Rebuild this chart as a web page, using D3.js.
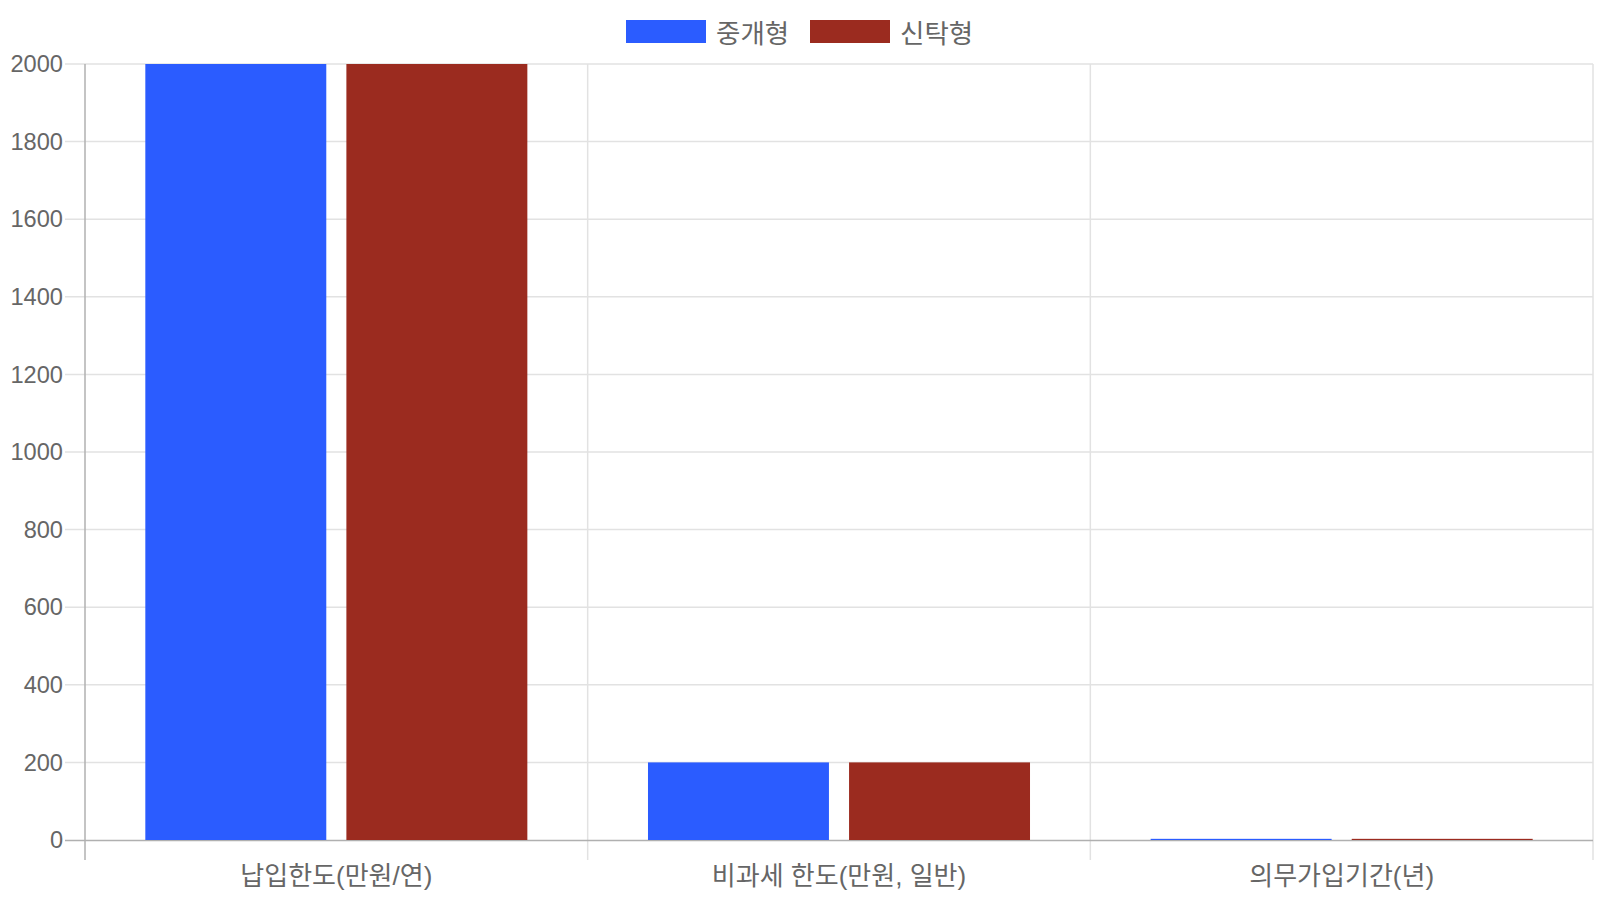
<!DOCTYPE html>
<html><head><meta charset="utf-8">
<script src="https://cdn.jsdelivr.net/npm/d3@7"></script>
<style>
html,body{margin:0;padding:0;background:#fff;}
svg{display:block;font-family:"Liberation Sans","Noto Sans CJK KR",Arial,sans-serif;}
</style></head>
<body>
<svg id="c" width="1600" height="900"></svg>
<script>
const categories = ["납입한도(만원/연)", "비과세 한도(만원, 일반)", "의무가입기간(년)"];
const seriesNames = ["중개형", "신탁형"];
const seriesColors = ["#2b5cff", "#9b2b1f"];
const valuesBrokerage = [2000, 200, 3];
const valuesTrust = [2000, 200, 3];
const yTicks = [0, 200, 400, 600, 800, 1000, 1200, 1400, 1600, 1800, 2000];

(function () {
const series = [valuesBrokerage, valuesTrust];
const svg = d3.select("#c");
const pL = 85, pR = 1593, pT = 64, pB = 840;
const x = d3.scaleBand().domain(categories).range([pL, pR]).paddingInner(0).paddingOuter(0);
const y = d3.scaleLinear().domain([0, 2000]).range([pB, pT]);
const catPct = 0.8, barPct = 0.9;

// horizontal grid
svg.append("g").selectAll("line").data(yTicks.filter(d => d !== 0)).join("line")
  .attr("x1", pL - 20).attr("x2", pR)
  .attr("y1", d => y(d)).attr("y2", d => y(d))
  .attr("stroke", "#e2e2e2").attr("stroke-width", 1.5);
// vertical grid
const vx = categories.map(c => x(c)).concat([pR]);
svg.append("g").selectAll("line").data(vx).join("line")
  .attr("x1", d => d).attr("x2", d => d)
  .attr("y1", pT).attr("y2", pB + 20)
  .attr("stroke", (d, i) => i === 0 ? "#b0b0b0" : "#e2e2e2").attr("stroke-width", 1.5);

// y labels
svg.append("g").selectAll("text").data(yTicks).join("text")
  .attr("x", pL - 22).attr("y", d => y(d)).attr("dy", "0.35em")
  .attr("text-anchor", "end").attr("fill", "#666").attr("font-size", 23.6)
  .text(d => d);

// zero axis line
svg.append("line").attr("x1", pL - 20).attr("x2", pR).attr("y1", pB + 0.5).attr("y2", pB + 0.5)
  .attr("stroke", "#b0b0b0").attr("stroke-width", 1.5);

// bars
const inner = d3.scaleBand().domain(d3.range(series.length))
  .range([0, x.bandwidth() * catPct]);
series.forEach((vals, si) => {
  svg.append("g").selectAll("rect").data(vals).join("rect")
    .attr("x", (d, i) => x(categories[i]) + x.bandwidth() * (1 - catPct) / 2 + inner(si) + inner.bandwidth() * (1 - barPct) / 2)
    .attr("width", inner.bandwidth() * barPct)
    .attr("y", d => y(d))
    .attr("height", d => pB - y(d))
    .attr("fill", seriesColors[si]);
});

// x labels
svg.append("g").selectAll("text").data(categories).join("text")
  .attr("x", d => x(d) + x.bandwidth() / 2).attr("y", pB + 45)
  .attr("text-anchor", "middle").attr("fill", "#666").attr("font-size", 26)
  .text(d => d);

// legend
const lg = svg.append("g");
const legendX = [626, 810];
seriesNames.forEach((n, i) => {
  lg.append("rect").attr("x", legendX[i]).attr("y", 20).attr("width", 80).attr("height", 23).attr("fill", seriesColors[i]);
  lg.append("text").attr("x", legendX[i] + 90).attr("y", 33.5).attr("dy", "0.35em")
    .attr("fill", "#666").attr("font-size", 26.5).text(n);
});
})();
</script>
</body></html>
